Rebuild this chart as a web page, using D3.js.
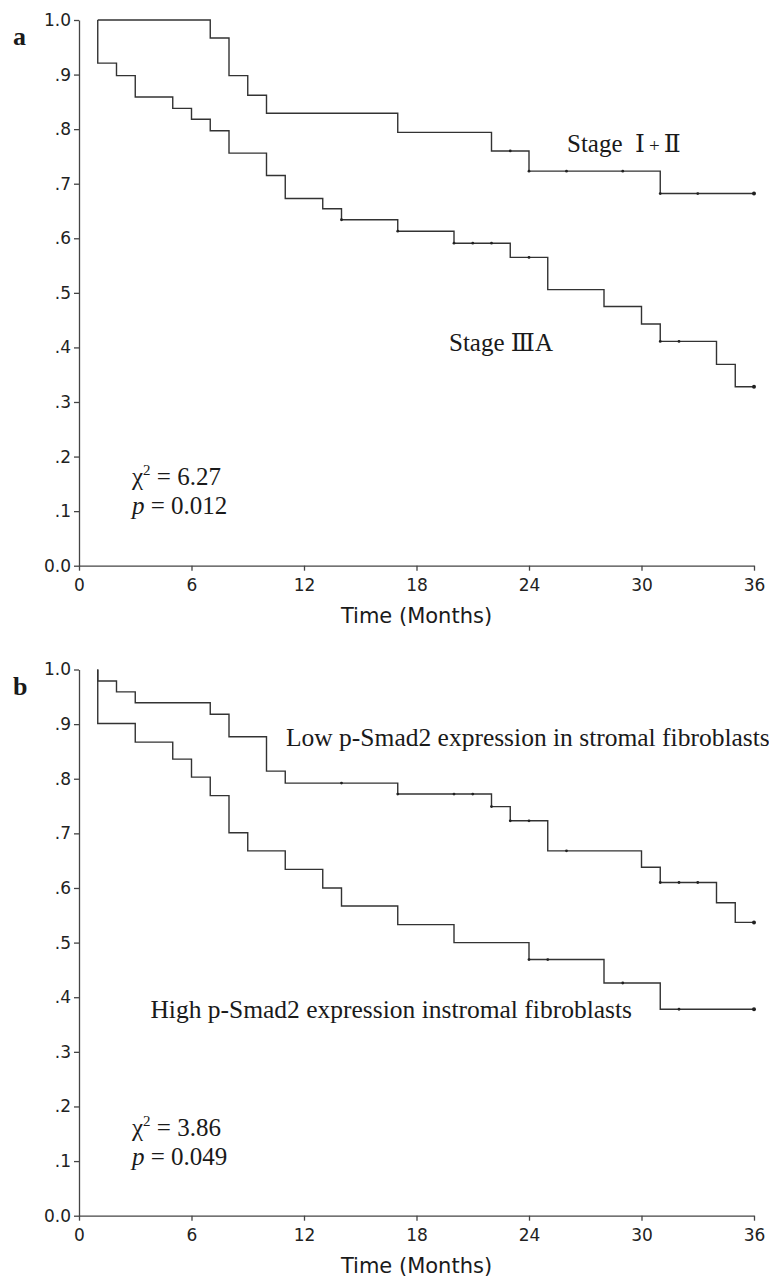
<!DOCTYPE html>
<html>
<head>
<meta charset="utf-8">
<script src="https://cdn.jsdelivr.net/npm/d3@7"></script>
<style>
  body { margin: 0; background: #fff; }
  .tick text { font-family: "DejaVu Sans", sans-serif; font-size: 17px; fill: #222; }
  .axis path, .axis line { stroke: #444; stroke-width: 1.3; }
  .curve { fill: none; stroke: #333; stroke-width: 1.4; }
  .serif { font-family: "Liberation Serif", "DejaVu Serif", "Noto Sans CJK SC", serif; fill: #1a1a1a; }
</style>
</head>
<body>
<svg width="769" height="1279"></svg>
<script>
'use strict'

// x axis ticks and y axis ticks (shared by both panels)
const monthTicks = [0, 6, 12, 18, 24, 30, 36]
const survTicks = [0, 0.1, 0.2, 0.3, 0.4, 0.5, 0.6, 0.7, 0.8, 0.9, 1.0]

// panel a: Stage I+II
const stage12Times = [1, 1, 7, 8, 9, 10, 17, 22, 24, 31, 36]
const stage12Surv = [1.0, 1.0, 0.967, 0.898, 0.862, 0.829, 0.794, 0.760, 0.723, 0.682, 0.682]
const stage12Cens = [23, 24, 26, 29, 31, 33, 36]

// panel a: Stage IIIA
const stage3Times = [1, 1, 2, 3, 5, 6, 7, 8, 10, 11, 13, 14, 17, 20, 23, 25, 28, 30, 31, 34, 35, 36]
const stage3Surv = [1.0, 0.921, 0.898, 0.859, 0.838, 0.818, 0.797, 0.756, 0.715, 0.673, 0.654, 0.634, 0.613, 0.591, 0.565, 0.506, 0.475, 0.443, 0.411, 0.369, 0.328, 0.328]
const stage3Cens = [14, 17, 20, 21, 22, 24, 31, 32, 36]

// panel b: low p-Smad2
const lowTimes = [1, 1, 2, 3, 7, 8, 10, 11, 17, 22, 23, 25, 30, 31, 34, 35, 36]
const lowSurv = [1.0, 0.979, 0.959, 0.939, 0.918, 0.877, 0.814, 0.792, 0.772, 0.749, 0.723, 0.668, 0.638, 0.610, 0.573, 0.537, 0.537]
const lowCens = [14, 17, 20, 21, 22, 23, 24, 26, 31, 32, 33, 36]

// panel b: high p-Smad2
const highTimes = [1, 1, 3, 5, 6, 7, 8, 9, 11, 13, 14, 17, 20, 24, 28, 31, 36]
const highSurv = [1.0, 0.901, 0.867, 0.836, 0.803, 0.769, 0.701, 0.668, 0.634, 0.600, 0.567, 0.533, 0.500, 0.469, 0.426, 0.378, 0.378]
const highCens = [24, 25, 29, 32, 36]

const svg = d3.select('svg')

const x = d3.scaleLinear().domain([0, 36]).range([79, 754])

const zip = (ts, ss) => ts.map((t, i) => ({ t: t, s: ss[i] }))

// value of a step curve at time t (right-continuous)
const survAt = (pts, t) => {
    let v = pts[0].s
    pts.forEach((p) => { if (p.t <= t) v = p.s })
    return v
}

function panel(y, curves, letter, letterY, chi, pval, statY) {
    const g = svg.append('g')

    g.append('g')
        .attr('class', 'axis')
        .attr('transform', `translate(0, ${y(0)})`)
        .call(d3.axisBottom(x)
            .tickValues(monthTicks)
            .tickSize(5)
            .tickSizeOuter(0)
            .tickPadding(8))

    g.append('g')
        .attr('class', 'axis')
        .attr('transform', `translate(${x(0)}, 0)`)
        .call(d3.axisLeft(y)
            .tickValues(survTicks)
            .tickSize(5)
            .tickSizeOuter(0)
            .tickPadding(3)
            .tickFormat((d) => d === 0 ? '0.0' : d === 1 ? '1.0' : d3.format('.1f')(d).replace(/^0/, '')))

    const line = d3.line()
        .x((d) => x(d.t))
        .y((d) => y(d.s))
        .curve(d3.curveStepAfter)

    curves.forEach((c) => {
        const pts = zip(c.times, c.surv)
        g.append('path')
            .attr('class', 'curve')
            .attr('d', line(pts))

        g.selectAll(null)
            .data(c.cens)
            .enter()
            .append('circle')
            .attr('cx', (d) => x(d))
            .attr('cy', (d) => y(survAt(pts, d)))
            .attr('r', (d) => d === 36 ? 2 : 1.4)
            .attr('fill', '#222')
    })

    g.append('text')
        .attr('class', 'serif')
        .attr('x', x(18))
        .attr('y', y(0) + 57)
        .attr('text-anchor', 'middle')
        .style('font-family', '"DejaVu Sans", sans-serif')
        .style('font-size', '21px')
        .text('Time (Months)')

    g.append('text')
        .attr('class', 'serif')
        .attr('x', 13)
        .attr('y', letterY)
        .style('font-size', '26px')
        .style('font-weight', 'bold')
        .text(letter)

    const chiText = g.append('text')
        .attr('class', 'serif')
        .attr('x', 132)
        .attr('y', statY)
        .style('font-size', '25px')
    chiText.append('tspan').text('χ')
    chiText.append('tspan')
        .attr('dy', -10)
        .style('font-size', '15px')
        .text('2')
    chiText.append('tspan')
        .attr('dy', 10)
        .text(' = ' + chi)

    const pText = g.append('text')
        .attr('class', 'serif')
        .attr('x', 132)
        .attr('y', statY + 29)
        .style('font-size', '25px')
    pText.append('tspan')
        .style('font-style', 'italic')
        .text('p')
    pText.append('tspan').text(' = ' + pval)

    return g
}

const yA = d3.scaleLinear().domain([0, 1]).range([565.7, 20])
const yB = d3.scaleLinear().domain([0, 1]).range([1215.7, 669.5])

const gA = panel(yA, [
    { times: stage12Times, surv: stage12Surv, cens: stage12Cens },
    { times: stage3Times, surv: stage3Surv, cens: stage3Cens }
], 'a', 45, '6.27', '0.012', 485)

const stageLabel = gA.append('text')
    .attr('class', 'serif')
    .attr('x', 567)
    .attr('y', 152)
    .style('font-size', '25px')
    .style('white-space', 'pre')
stageLabel.append('tspan').text('Stage  Ⅰ')
stageLabel.append('tspan').attr('dx', 4).style('font-size', '19px').text('+')
stageLabel.append('tspan').attr('dx', 4).text('Ⅱ')

gA.append('text')
    .attr('class', 'serif')
    .attr('x', 449)
    .attr('y', 351)
    .style('font-size', '25px')
    .text('Stage ⅢA')

const gB = panel(yB, [
    { times: lowTimes, surv: lowSurv, cens: lowCens },
    { times: highTimes, surv: highSurv, cens: highCens }
], 'b', 695, '3.86', '0.049', 1136)

gB.append('text')
    .attr('class', 'serif')
    .attr('x', 286)
    .attr('y', 746)
    .style('font-size', '25.5px')
    .text('Low p-Smad2 expression in stromal fibroblasts')

gB.append('text')
    .attr('class', 'serif')
    .attr('x', 632)
    .attr('y', 1018)
    .attr('text-anchor', 'end')
    .style('font-size', '25.5px')
    .text('High p-Smad2 expression instromal fibroblasts')
</script>
</body>
</html>
